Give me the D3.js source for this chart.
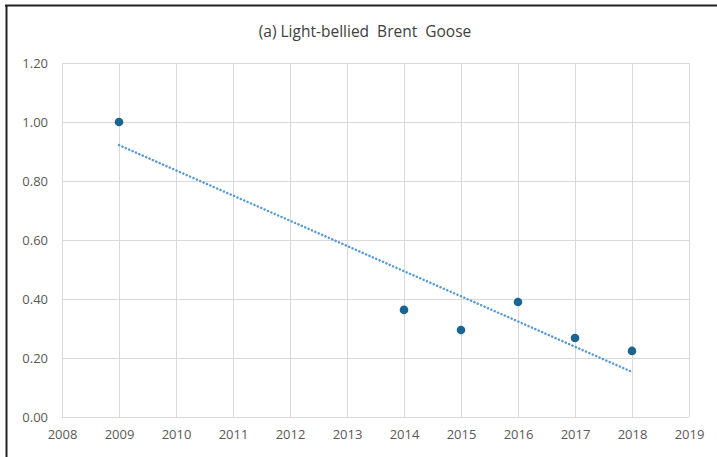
<!DOCTYPE html>
<html>
<head>
<meta charset="utf-8">
<script src="https://cdn.jsdelivr.net/npm/d3@7"></script>
<style>
  html, body { margin: 0; padding: 0; background: #fff; }
  svg { display: block; }
</style>
</head>
<body>
<script>
// Light-bellied Brent Goose index by year
const years = [2009, 2014, 2015, 2016, 2017, 2018];
const values = [1.00, 0.363, 0.295, 0.39, 0.268, 0.224];
const xTicks = [2008, 2009, 2010, 2011, 2012, 2013, 2014, 2015, 2016, 2017, 2018, 2019];
const yTicks = [0, 0.2, 0.4, 0.6, 0.8, 1.0, 1.2];
const title = "(a) Light-bellied  Brent  Goose";

const W = 717, H = 457;
const svg = d3.select("body").append("svg").attr("width", W).attr("height", H);

// chart frame (top and left edges)
svg.append("line").attr("x1", 5).attr("x2", W).attr("y1", 5.5).attr("y2", 5.5)
  .attr("stroke", "#222").attr("stroke-width", 2);
svg.append("line").attr("x1", 6.5).attr("x2", 6.5).attr("y1", 5).attr("y2", H)
  .attr("stroke", "#222").attr("stroke-width", 2);

const x = d3.scaleLinear().domain([2008, 2019]).range([62, 689]);
const y = d3.scaleLinear().domain([0, 1.2]).range([417, 63]);

// gridlines
const grid = svg.append("g");
grid.selectAll("line.h").data(yTicks).join("line")
  .attr("x1", x(2008)).attr("x2", x(2019))
  .attr("y1", d => Math.round(y(d)) + 0.5).attr("y2", d => Math.round(y(d)) + 0.5)
  .attr("stroke", "#d9d9d9").attr("stroke-width", 1);
grid.selectAll("line.v").data(xTicks).join("line")
  .attr("x1", d => Math.round(x(d)) + 0.5).attr("x2", d => Math.round(x(d)) + 0.5)
  .attr("y1", y(1.2)).attr("y2", y(0))
  .attr("stroke", "#d9d9d9").attr("stroke-width", 1);

// axes (labels only)
const font = "'Open Sans', 'Noto Sans', sans-serif";
const yAxis = svg.append("g").attr("transform", `translate(${x(2008)},0)`)
  .call(d3.axisLeft(y).tickValues(yTicks).tickFormat(d3.format(".2f")).tickSize(0).tickPadding(14));
const xAxis = svg.append("g").attr("transform", `translate(0,${y(0)})`)
  .call(d3.axisBottom(x).tickValues(xTicks).tickFormat(d3.format("d")).tickSize(0).tickPadding(13));
[yAxis, xAxis].forEach(a => {
  a.select(".domain").remove();
  a.selectAll("text").attr("fill", "#595959").style("font-family", font).style("font-size", "13px");
});

// linear trend line (least squares)
const mx = d3.mean(years), my = d3.mean(values);
const sxy = d3.sum(years, (d, i) => (d - mx) * (values[i] - my));
const sxx = d3.sum(years, d => (d - mx) ** 2);
const slope = sxy / sxx, icpt = my - slope * mx;
const x0 = d3.min(years), x1 = d3.max(years);
svg.append("line")
  .attr("x1", x(x0)).attr("y1", y(icpt + slope * x0))
  .attr("x2", x(x1)).attr("y2", y(icpt + slope * x1))
  .attr("stroke", "#5b9bd5").attr("stroke-width", 2.5)
  .attr("stroke-dasharray", "0.1,3.6").attr("stroke-linecap", "round");

// data points
svg.append("g").selectAll("circle").data(years).join("circle")
  .attr("cx", d => x(d)).attr("cy", (d, i) => y(values[i])).attr("r", 4.3)
  .attr("fill", "#1b6690");

// title
svg.append("text").attr("x", 365).attr("y", 37).attr("text-anchor", "middle")
  .attr("fill", "#404040").style("font-family", font).style("font-size", "15.5px")
  .style("white-space", "pre").attr("xml:space", "preserve")
  .text(title);
</script>
</body>
</html>
